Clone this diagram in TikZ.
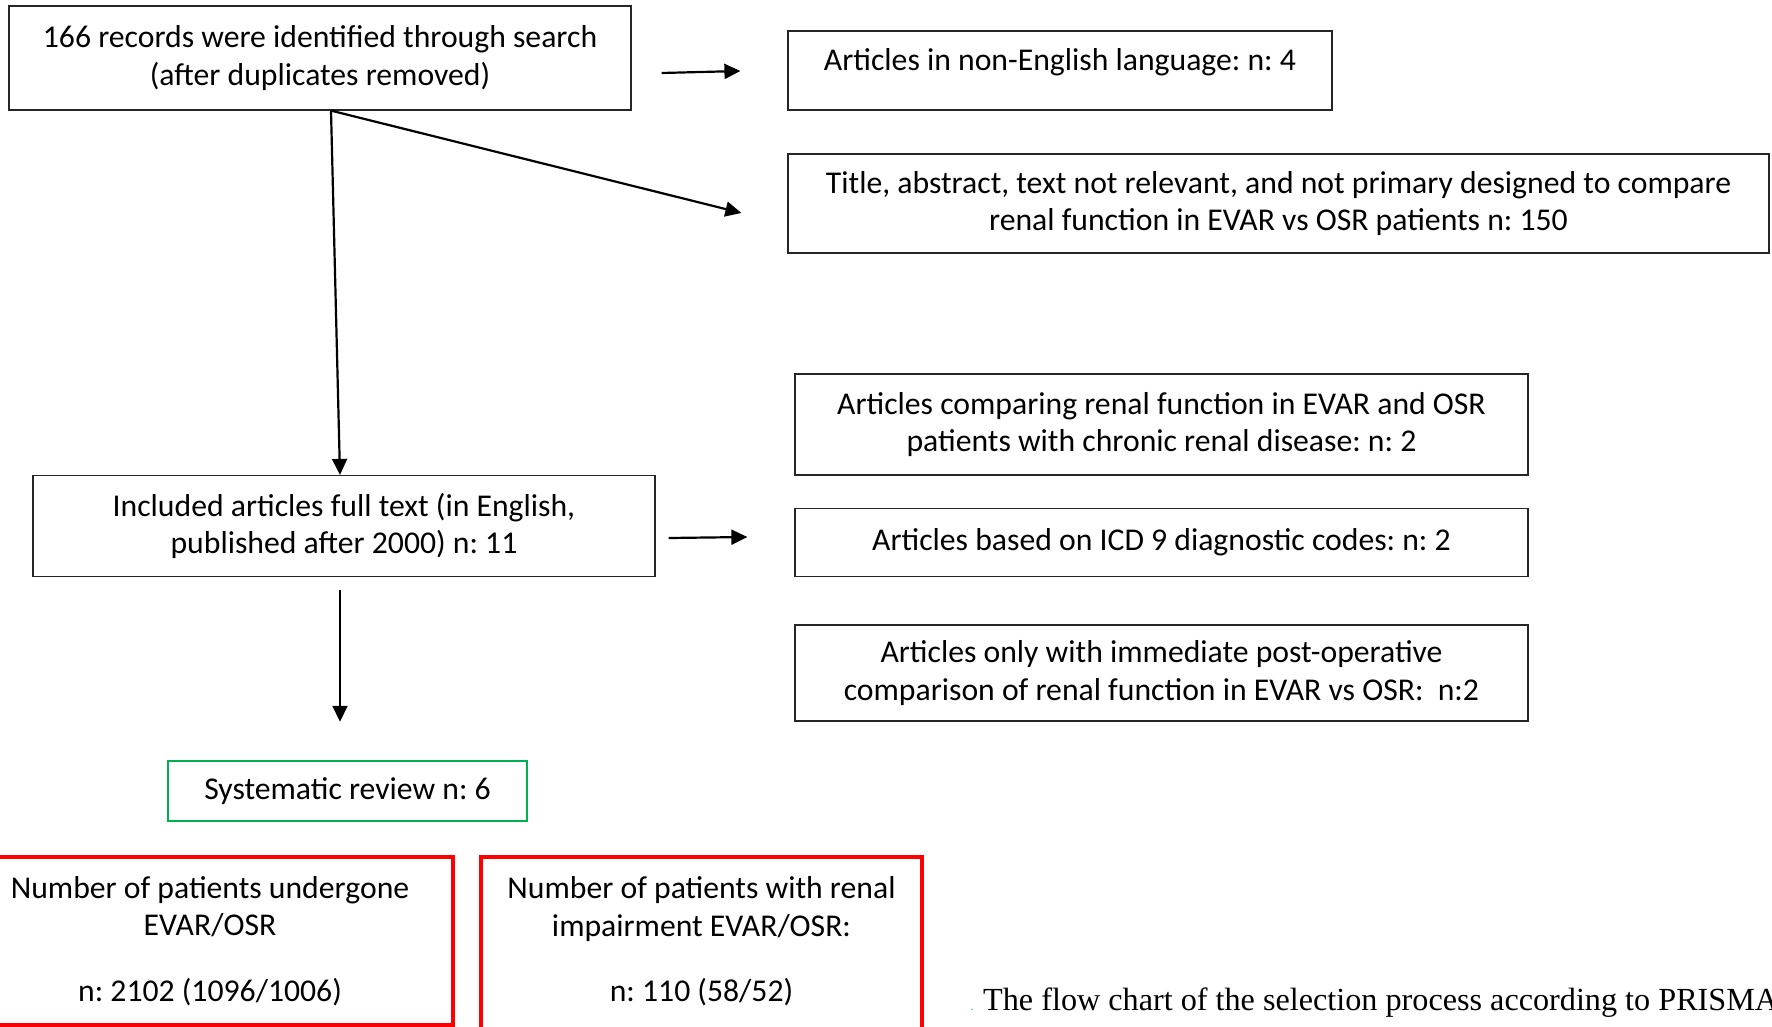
\documentclass[tikz,border=0pt]{standalone}
\usepackage{fontspec}
\setmainfont{Carlito}
\newfontfamily\capfont{Liberation Serif}
\usetikzlibrary{arrows.meta,calc}
\definecolor{pgreen}{HTML}{00B050}
\definecolor{pred}{HTML}{FF0000}
\definecolor{dotblue}{HTML}{6FA8DC}
\frenchspacing
\newcommand{\mainsz}{\fontsize{31.7}{37.5}\selectfont}
\tikzset{
  box/.style={draw=black!85, line width=1.2pt, inner sep=0pt, align=center, font=\mainsz},
  greenbox/.style={box, draw=pgreen, line width=2.5pt},
  redbox/.style={box, draw=pred, line width=4.5pt},
  conn/.style={line width=2.2pt, -{Triangle[length=16pt,width=15pt]}},
  plainline/.style={line width=2.2pt}
}
\begin{document}
\begin{tikzpicture}[x=1pt,y=-1pt]
\useasboundingbox (0,0) rectangle (1772,1027);
\node[box, minimum width=622pt, minimum height=104pt] (b1) at (320,58)
  {166 records were identified through search\\(after duplicates removed)};
\node[box, minimum width=544pt, minimum height=79pt, text depth=22pt] (bA) at (1060,70.5)
  {Articles in non-English language: n: 4};
\node[box, minimum width=981pt, minimum height=99pt] (bB) at (1278.5,203.5)
  {Title, abstract, text not relevant, and not primary designed to compare\\renal function in EVAR vs OSR patients n: 150};
\node[box, minimum width=622pt, minimum height=101pt] (bC) at (344,526)
  {Included articles full text (in English,\\published after 2000) n: 11};
\node[box, minimum width=733pt, minimum height=101pt] (bD) at (1161.5,424.5)
  {Articles comparing renal function in EVAR and OSR\\patients with chronic renal disease: n: 2};
\node[box, minimum width=733pt, minimum height=68pt] (bE) at (1161.5,542.5)
  {Articles based on ICD 9 diagnostic codes: n: 2};
\node[box, minimum width=733pt, minimum height=96pt] (bF) at (1161.5,673)
  {Articles only with immediate post-operative\\comparison of renal function in EVAR vs OSR:~~n:2};
\node[greenbox, minimum width=359pt, minimum height=60pt] (bG) at (347.5,791)
  {Systematic review n: 6};
\node[redbox, minimum width=486pt, minimum height=168pt] (bH) at (210,941)
  {Number of patients undergone\\EVAR/OSR\\[28pt]n: 2102 (1096/1006)};
\node[redbox, minimum width=441pt, minimum height=184pt, text depth=20pt] (bI) at (701.5,949)
  {Number of patients with renal\\impairment EVAR/OSR:\\[28pt]n: 110 (58/52)};
\node[anchor=base west, inner sep=0pt, font=\capfont\fontsize{32.2}{40}\selectfont] (cap) at (983,1010)
  {The flow chart of the selection process according to PRISMA};
\node[anchor=base, inner sep=0pt, text=dotblue, font=\capfont\fontsize{14}{16}\selectfont] (dot) at (972,1010) {.};
% connectors
\coordinate (j1) at ($(b1.south)+(11,0)$);
\draw[conn] ($(b1.east)+(30,15)$) -- ($(bA.west)+(-47,0.5)$);
\draw[conn] (j1) -- ($(bB.west)+(-46,9.5)$);
\draw[conn] (j1) -- ($(bC.north)+(-4,0)$);
\draw[conn] ($(bC.east)+(13,12)$) -- ($(bE.west)+(-47,-5.5)$);
\draw[conn] ($(bC.south)+(-4,13)$) -- ($(bG.north)+(-7.5,-38)$);
\end{tikzpicture}
\end{document}
